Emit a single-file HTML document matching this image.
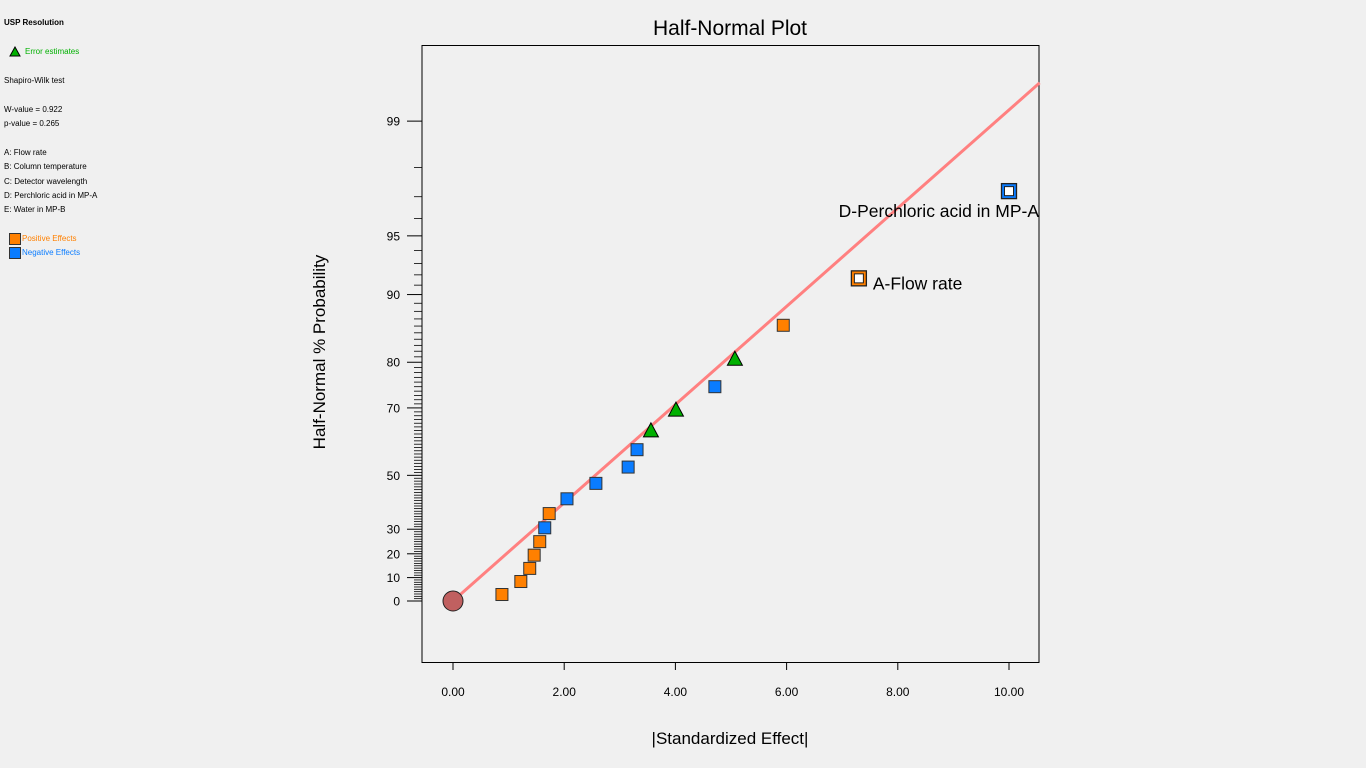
<!DOCTYPE html>
<html><head><meta charset="utf-8"><style>
html,body{margin:0;padding:0;background:#f0f0f0;}
body{width:1366px;height:768px;overflow:hidden;font-family:"Liberation Sans","DejaVu Sans",sans-serif;}
.lg{position:absolute;left:4px;font-size:8px;color:#000;white-space:nowrap;}
</style></head><body>
<div>
<div class="lg" style="top:18px;font-weight:bold;">USP Resolution</div>
<svg style="position:absolute;left:9px;top:46px" width="12" height="11"><polygon points="6,1 11,10 1,10" fill="#00b000" stroke="#000" stroke-width="1"/></svg>
<div class="lg" style="top:47px;left:25px;color:#00b000;">Error estimates</div>
<div class="lg" style="top:76px;">Shapiro-Wilk test</div>
<div class="lg" style="top:105px;">W-value = 0.922</div>
<div class="lg" style="top:119px;">p-value = 0.265</div>
<div class="lg" style="top:148px;">A: Flow rate</div>
<div class="lg" style="top:162px;">B: Column temperature</div>
<div class="lg" style="top:177px;">C: Detector wavelength</div>
<div class="lg" style="top:191px;">D: Perchloric acid in MP-A</div>
<div class="lg" style="top:205px;">E: Water in MP-B</div>
<div style="position:absolute;left:9px;top:233px;width:10px;height:10px;background:#ff8000;border:1px solid #333"></div>
<div class="lg" style="top:234px;left:22px;color:#ff8000;">Positive Effects</div>
<div style="position:absolute;left:9px;top:247px;width:10px;height:10px;background:#0a7cff;border:1px solid #333"></div>
<div class="lg" style="top:248px;left:22px;color:#0a7cff;">Negative Effects</div>
</div>
<svg id="chart" width="1366" height="768" style="position:absolute;left:0;top:0" font-family="Liberation Sans, DejaVu Sans, sans-serif"></svg>
<script>
const effects=[0.88,1.22,1.38,1.46,1.56,1.65,1.73,2.05,2.57,3.15,3.31,3.56,4.01,4.71,5.07,5.94,7.30,10.0];
const probs=[2.78,8.33,13.89,19.44,25.0,30.56,36.11,41.67,47.22,52.78,58.33,63.89,69.44,75.0,80.56,86.11,91.67,97.22];
const kinds=['pos','pos','pos','pos','pos','neg','pos','neg','neg','neg','neg','err','err','neg','err','pos','pos','neg'];
const pointLabels=['','','','','','','','','','','','','','','','','A-Flow rate','D-Perchloric acid in MP-A'];
const xTicks=[0,2,4,6,8,10];
const xTickLabels=['0.00','2.00','4.00','6.00','8.00','10.00'];
const yTicks=[0,10,20,30,50,70,80,90,95,99];
const lineSlope=0.2636;
const lineMaxEffect=10.55;

function invNorm(p){const a=[-39.6968302866538,220.946098424521,-275.928510446969,138.357751867269,-30.6647980661472,2.50662827745924],b=[-54.4760987982241,161.585836858041,-155.698979859887,66.8013118877197,-13.2806815528857],c=[-0.00778489400243029,-0.322396458041136,-2.40075827716184,-2.54973253934373,4.37466414146497,2.93816398269878],d=[0.00778469570904146,0.32246712907004,2.445134137143,3.75440866190742];let q,r;if(p<0.02425){q=Math.sqrt(-2*Math.log(p));return(((((c[0]*q+c[1])*q+c[2])*q+c[3])*q+c[4])*q+c[5])/((((d[0]*q+d[1])*q+d[2])*q+d[3])*q+1);}if(p>1-0.02425){q=Math.sqrt(-2*Math.log(1-p));return-(((((c[0]*q+c[1])*q+c[2])*q+c[3])*q+c[4])*q+c[5])/((((d[0]*q+d[1])*q+d[2])*q+d[3])*q+1);}q=p-0.5;r=q*q;return(((((a[0]*r+a[1])*r+a[2])*r+a[3])*r+a[4])*r+a[5])*q/(((((b[0]*r+b[1])*r+b[2])*r+b[3])*r+b[4])*r+1);}
const X0=453,XS=55.6,Y0=601,YS=186.3;
const sx=v=>X0+v*XS;
const zy=z=>Y0-z*YS;
const sy=p=>zy(p<=0?0:invNorm(0.5+p/200));
const svg=document.getElementById('chart');
const NS='http://www.w3.org/2000/svg';
function mk(t,a,txt){const e=document.createElementNS(NS,t);for(const k in a)e.setAttribute(k,a[k]);if(txt!==undefined)e.textContent=txt;svg.appendChild(e);return e;}
let e;
e=mk('text',{x:730,y:35,'text-anchor':'middle','font-size':21},'Half-Normal Plot');


e=mk('rect',{x:422,y:45.5,width:617,height:617,fill:'none',stroke:'#000','stroke-width':1});


e=mk('text',{x:730,y:744,'text-anchor':'middle','font-size':17},'|Standardized Effect|');


e=mk('text',{x:325,y:352,'text-anchor':'middle','font-size':17,transform:'rotate(-90 325 352)'},'Half-Normal % Probability');


xTicks.forEach((v,i)=>{
 e=mk('line',{x1:sx(v),x2:sx(v),y1:662,y2:670,stroke:'#000'});
 
 
 e=mk('text',{x:sx(v),y:696,'text-anchor':'middle','font-size':12},xTickLabels[i]);
 
 
});
for(let p=1;p<=98;p++){
 if(yTicks.includes(p))continue;
 e=mk('line',{x1:414,x2:422,y1:sy(p),y2:sy(p),stroke:'#000','stroke-width':0.8});
 
 
}
yTicks.forEach(v=>{
 e=mk('line',{x1:407,x2:422,y1:sy(v),y2:sy(v),stroke:'#000'});
 
 
 e=mk('text',{x:400,y:sy(v)+4.5,'text-anchor':'end','font-size':12},String(v));
 
 
});
e=mk('line',{x1:sx(0),y1:zy(0),x2:sx(lineMaxEffect),y2:zy(lineSlope*lineMaxEffect),stroke:'#ff8080','stroke-width':3});


e=mk('circle',{cx:sx(0),cy:zy(0),r:10,fill:'#c06060',stroke:'#222','stroke-width':1});


const col={pos:'#ff8000',neg:'#0a7cff'};
effects.forEach((v,i)=>{
 const x=sx(v),y=sy(probs[i]),k=kinds[i];
 if(k==='err'){
  e=mk('polygon',{points:`${x},${y-8} ${x+7.5},${y+6} ${x-7.5},${y+6}`,fill:'#00b000',stroke:'#000','stroke-width':1});
  
  
 } else if(pointLabels[i]){
  e=mk('rect',{x:x-7.5,y:y-7.5,width:15,height:15,fill:col[k],stroke:'#222','stroke-width':1.3});
  
  
  e=mk('rect',{x:x-4.5,y:y-4.5,width:9,height:9,fill:'#fff',stroke:'#222','stroke-width':1});
  
  
 } else {
  e=mk('rect',{x:x-6,y:y-6,width:12,height:12,fill:col[k],stroke:'#333','stroke-width':1});
  
  
 }
});
[[16,'start',14,11],[17,'end',30,26]].forEach(([i,anc,dx,dy])=>{
 const x=sx(effects[i]),y=sy(probs[i]);
 e=mk('text',{x:anc==='start'?x+dx:1039,y:y+dy,'text-anchor':anc,'font-size':17.5},pointLabels[i]);
 
 
});
</script>
</body></html>
